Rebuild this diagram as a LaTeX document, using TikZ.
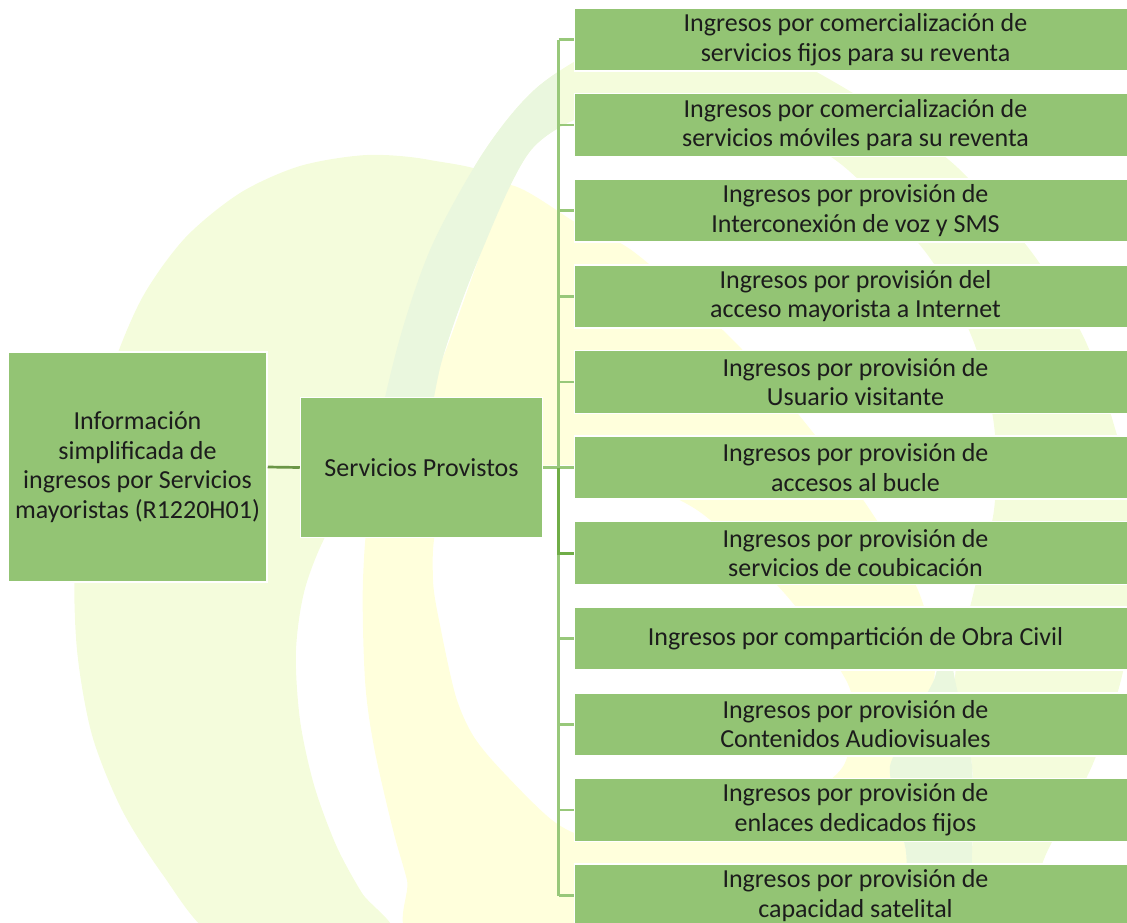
\documentclass[tikz,border=0pt]{standalone}
\usepackage{fontspec}
\setmainfont{Carlito}
\definecolor{boxgreen}{RGB}{147,196,116}
\definecolor{linelight}{RGB}{152,200,122}
\definecolor{linedark}{RGB}{112,173,71}
\definecolor{conngreen}{RGB}{106,150,70}
\definecolor{wmgreen}{HTML}{F4FCDC}
\definecolor{wmyellow}{HTML}{FFFFDC}
\definecolor{wmstripe}{HTML}{EAF7DE}
\definecolor{textgray}{RGB}{28,28,28}
\tikzset{
  box/.style={fill=boxgreen, draw=white, line width=1.5pt, inner sep=0pt, align=center,
    font=\fontsize{26}{29.5}\selectfont, text=textgray},
  leftbox/.style={box, minimum width=259pt, minimum height=230pt},
  midbox/.style={box, minimum width=242pt, minimum height=140pt},
  rbox/.style={box, minimum width=562pt, minimum height=63pt},
  lightline/.style={draw=linelight, line width=2.6pt},
  darkline/.style={draw=linedark, line width=3.2pt},
  connline/.style={draw=conngreen, line width=2.7pt},
}
\begin{document}
\begin{tikzpicture}[x=1pt,y=-1pt]
\useasboundingbox (0,0) rectangle (1127,922);
% ---------- watermark ----------
\fill[wmgreen] plot[smooth cycle, tension=0.5] coordinates {
 (367,155) (300,166) (240,193) (185,238) (142,298) (110,375) (88,465) (75,560)
 (77,650) (92,735) (122,810) (163,875) (212,935) (300,965) (392,935) (362,893)
 (336,845) (314,785) (300,720) (296,650) (306,585) (335,520) (398,450) (420,360)
 (462,250) (495,180) (430,160)};
\fill[wmyellow, even odd rule]
 plot[smooth cycle] coordinates {
 (505,185) (580,225) (634,252) (733,340) (807,425) (870,510) (920,595) (934,680)
 (892,766) (906,852) (912,945) (660,955) (422,945) (407,880) (393,830) (374,747)
 (365,680) (363,580) (372,500) (410,430) (442,360) (480,255)}
 plot[smooth cycle] coordinates {
 (433,580) (438,525) (480,482) (540,466) (600,470) (697,510) (786,595) (846,680)
 (852,720) (842,768) (790,805) (700,830) (600,838) (556,823) (504,773) (474,737)
 (456,697) (441,630)};
\def\ringpath{plot[smooth cycle] coordinates {
 (372,480) (394,360) (430,250) (485,150) (540,85) (620,40) (720,28) (798,62)
 (880,110) (958,168) (1033,254) (1085,340) (1114,425) (1135,510) (1135,595)
 (1121,680) (1092,766) (1047,852) (1010,945) (965,945) (972,852) (972,766)
 (955,680) (973,595) (994,510) (994,425) (973,340) (927,254) (842,165) (760,120)
 (680,103) (600,110) (531,150) (480,255) (442,360) (415,480)}}
\fill[wmgreen] \ringpath;
\begin{scope}
  \clip (0,0) rectangle (558,922);
  \fill[wmstripe] \ringpath;
\end{scope}
\fill[wmstripe] plot[smooth cycle, tension=0.3] coordinates {
 (945,630) (955,680) (972,766) (972,852) (968,945) (912,945) (906,852) (890,766) (934,680)};
% ---------- nodes ----------
\node[leftbox] (L) at (137.5,467) {Información\\simplificada de\\ingresos por Servicios\\mayoristas (R1220H01)};
\node[midbox] (M) at (421.5,467.5) {Servicios Provistos};
\node[rbox] (R1)  at (855.5,39.5)  {Ingresos por comercialización de\\servicios fijos para su reventa};
\node[rbox] (R2)  at (855.5,125.1) {Ingresos por comercialización de\\servicios móviles para su reventa};
\node[rbox] (R3)  at (855.5,210.7) {Ingresos por provisión de\\Interconexión de voz y SMS};
\node[rbox] (R4)  at (855.5,296.3) {Ingresos por provisión del\\acceso mayorista a Internet};
\node[rbox] (R5)  at (855.5,381.9) {Ingresos por provisión de\\Usuario visitante};
\node[rbox] (R6)  at (855.5,467.5) {Ingresos por provisión de\\accesos al bucle};
\node[rbox] (R7)  at (855.5,553.1) {Ingresos por provisión de\\servicios de coubicación};
\node[rbox] (R8)  at (855.5,638.7) {Ingresos por compartición de Obra Civil};
\node[rbox] (R9)  at (855.5,724.3) {Ingresos por provisión de\\Contenidos Audiovisuales};
\node[rbox] (R10) at (855.5,809.9) {Ingresos por provisión de\\enlaces dedicados fijos};
\node[rbox] (R11) at (855.5,895.5) {Ingresos por provisión de\\capacidad satelital};
% ---------- connectors ----------
\coordinate (btop) at (558.5,39.5);
\coordinate (bbot) at (558.5,895.5);
\draw[connline] (L.east) -- (M.west);
\draw[lightline] (btop) -- (bbot);
\foreach \r in {R1,R2,R3,R4,R5,R6,R7,R8,R9,R10,R11}
  \draw[lightline] (btop |- \r.west) -- (\r.west);
\draw[lightline] (M.east) -- (R6.west);
\draw[darkline] (btop |- M.east) -- (btop |- R7.west) -- (R7.west);
\end{tikzpicture}
\end{document}
